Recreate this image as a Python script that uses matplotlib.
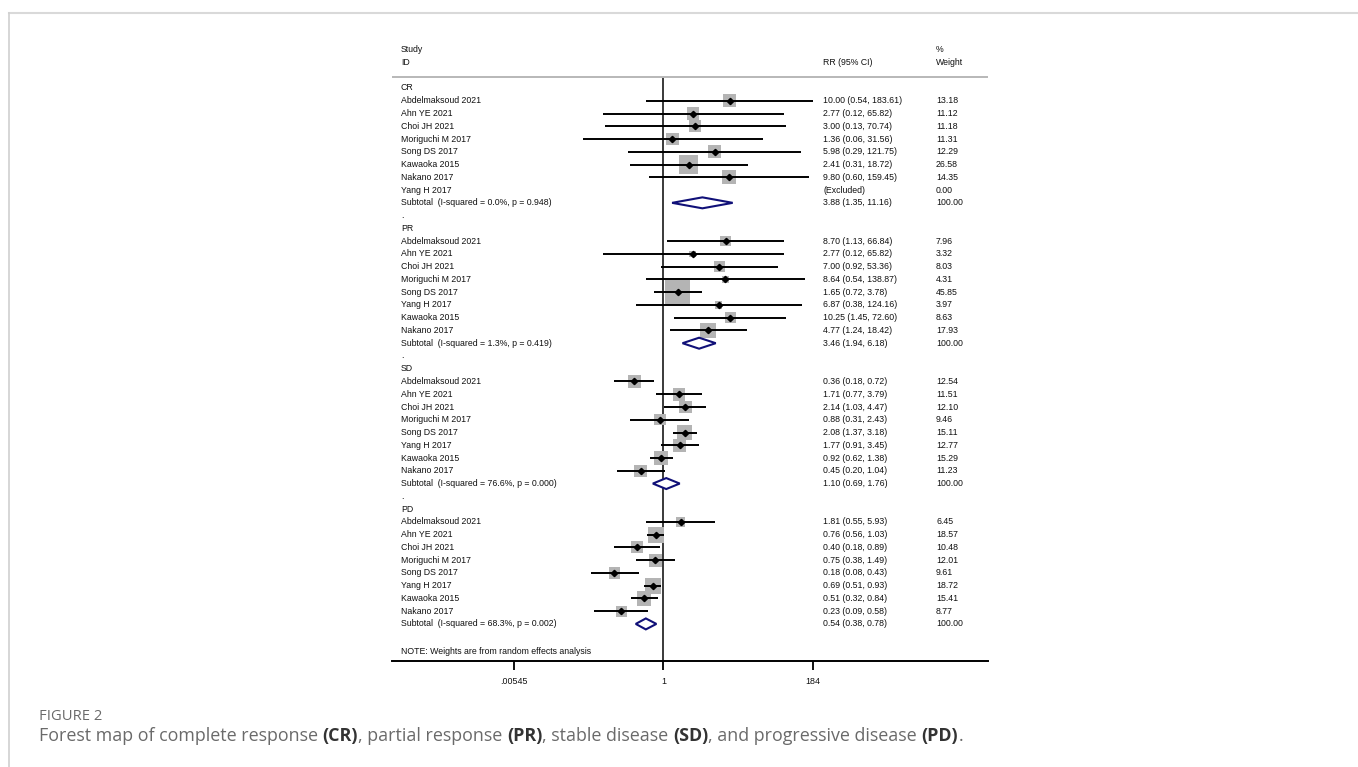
import numpy as np
import matplotlib
matplotlib.use("Agg")
import matplotlib.pyplot as plt
from matplotlib.transforms import blended_transform_factory
from matplotlib.patches import Polygon
from matplotlib.lines import Line2D
from matplotlib.text import Annotation
from matplotlib.ticker import NullLocator

# ---------------- data ----------------
groups = ["CR", "PR", "SD", "PD"]

studies_cr = ["Abdelmaksoud 2021", "Ahn YE 2021", "Choi JH 2021", "Moriguchi M 2017",
              "Song DS 2017", "Kawaoka 2015", "Nakano 2017", "Yang H 2017"]
rr_cr = [10.00, 2.77, 3.00, 1.36, 5.98, 2.41, 9.80, np.nan]
lo_cr = [0.54, 0.12, 0.13, 0.06, 0.29, 0.31, 0.60, np.nan]
hi_cr = [183.61, 65.82, 70.74, 31.56, 121.75, 18.72, 159.45, np.nan]
wt_cr = [13.18, 11.12, 11.18, 11.31, 12.29, 26.58, 14.35, 0.00]

studies_pr = ["Abdelmaksoud 2021", "Ahn YE 2021", "Choi JH 2021", "Moriguchi M 2017",
              "Song DS 2017", "Yang H 2017", "Kawaoka 2015", "Nakano 2017"]
rr_pr = [8.70, 2.77, 7.00, 8.64, 1.65, 6.87, 10.25, 4.77]
lo_pr = [1.13, 0.12, 0.92, 0.54, 0.72, 0.38, 1.45, 1.24]
hi_pr = [66.84, 65.82, 53.36, 138.87, 3.78, 124.16, 72.60, 18.42]
wt_pr = [7.96, 3.32, 8.03, 4.31, 45.85, 3.97, 8.63, 17.93]

studies_sd = ["Abdelmaksoud 2021", "Ahn YE 2021", "Choi JH 2021", "Moriguchi M 2017",
              "Song DS 2017", "Yang H 2017", "Kawaoka 2015", "Nakano 2017"]
rr_sd = [0.36, 1.71, 2.14, 0.88, 2.08, 1.77, 0.92, 0.45]
lo_sd = [0.18, 0.77, 1.03, 0.31, 1.37, 0.91, 0.62, 0.20]
hi_sd = [0.72, 3.79, 4.47, 2.43, 3.18, 3.45, 1.38, 1.04]
wt_sd = [12.54, 11.51, 12.10, 9.46, 15.11, 12.77, 15.29, 11.23]

studies_pd = ["Abdelmaksoud 2021", "Ahn YE 2021", "Choi JH 2021", "Moriguchi M 2017",
              "Song DS 2017", "Yang H 2017", "Kawaoka 2015", "Nakano 2017"]
rr_pd = [1.81, 0.76, 0.40, 0.75, 0.18, 0.69, 0.51, 0.23]
lo_pd = [0.55, 0.56, 0.18, 0.38, 0.08, 0.51, 0.32, 0.09]
hi_pd = [5.93, 1.03, 0.89, 1.49, 0.43, 0.93, 0.84, 0.58]
wt_pd = [6.45, 18.57, 10.48, 12.01, 9.61, 18.72, 15.41, 8.77]

sub_labels = ["Subtotal  (I-squared = 0.0%, p = 0.948)",
              "Subtotal  (I-squared = 1.3%, p = 0.419)",
              "Subtotal  (I-squared = 76.6%, p = 0.000)",
              "Subtotal  (I-squared = 68.3%, p = 0.002)"]
sub_rr = [3.88, 3.46, 1.10, 0.54]
sub_lo = [1.35, 1.94, 0.69, 0.38]
sub_hi = [11.16, 6.18, 1.76, 0.78]

tick_vals = [0.00545, 1, 184]
tick_labels = [".00545", "1", "184"]

note_text = "NOTE: Weights are from random effects analysis"

group_data = [
    (studies_cr, rr_cr, lo_cr, hi_cr, wt_cr),
    (studies_pr, rr_pr, lo_pr, hi_pr, wt_pr),
    (studies_sd, rr_sd, lo_sd, hi_sd, wt_sd),
    (studies_pd, rr_pd, lo_pd, hi_pd, wt_pd),
]

# ---------------- figure ----------------
W, H = 1358, 767
fig = plt.figure(figsize=(W / 100, H / 100), dpi=100)
fig.patch.set_facecolor("white")


def fx(px):
    return px / W


def fy(py):
    return 1 - py / H


# page frame
fig.add_artist(Line2D([fx(9), 1.0], [fy(13), fy(13)], transform=fig.transFigure,
                      color="#d9d9d9", lw=1.5))
fig.add_artist(Line2D([fx(9), fx(9)], [fy(13), 0.0], transform=fig.transFigure,
                      color="#d0d0d0", lw=1.2))

ax_left, ax_right, ax_top, ax_bottom = 392, 988, 40, 661
ax = fig.add_axes([fx(ax_left), fy(ax_bottom), (ax_right - ax_left) / W,
                   (ax_bottom - ax_top) / H])
ax.set_xscale("log")
px_per_ln = 28.68
x_null = 663.5
ax.set_xlim(np.exp((ax_left - x_null) / px_per_ln), np.exp((ax_right - x_null) / px_per_ln))
row0, row_h = 88.0, 12.76
ax.set_ylim((ax_bottom - row0) / row_h, (ax_top - row0) / row_h)

for s in ["top", "left", "right"]:
    ax.spines[s].set_visible(False)
ax.spines["bottom"].set_linewidth(1.4)
ax.set_yticks([])
ax.xaxis.set_minor_locator(NullLocator())
ax.set_xticks(tick_vals)
ax.set_xticklabels(tick_labels)
ax.tick_params(axis="x", length=6.5, width=1.4, pad=5, labelsize=6.4, colors="#111111")
for lab in ax.get_xticklabels():
    lab.set_fontfamily("Liberation Sans")

tr = blended_transform_factory(ax.transAxes, ax.transData)
fs = 6.35
font = dict(fontfamily="Liberation Sans", fontsize=fs, color="#111111", va="center",
            transform=tr)
x_lab, x_rr, x_wt = 0.0151, 0.7232, 0.9128

# header
ax.text(x_lab, -3.0, "Study", **font)
ax.text(x_lab, -1.96, "ID", **font)
ax.text(x_rr, -1.96, "RR (95% CI)", **font)
ax.text(x_wt, -3.0, "%", **font)
ax.text(x_wt, -1.96, "Weight", **font)
header_row = -0.86
ax.axhline(header_row, color="#b8b8b8", lw=1.4)
ax.vlines(1, header_row, ax.get_ylim()[0], color="#3a3a3a", lw=1.4, zorder=1)

row = 0
for gi, (names, rr, lo, hi, wt) in enumerate(group_data):
    ax.text(x_lab, row, groups[gi], **font)
    rows = np.arange(row + 1, row + 1 + len(names))
    rr_a, lo_a, hi_a, wt_a = map(np.asarray, (rr, lo, hi, wt))
    ok = ~np.isnan(rr_a)
    ax.scatter(rr_a[ok], rows[ok], s=7.06 * wt_a[ok], marker="s", color="#b4b4b4",
               linewidths=0, zorder=2)
    ax.hlines(rows[ok], lo_a[ok], hi_a[ok], color="black", lw=1.4, zorder=3)
    ax.plot(rr_a[ok], rows[ok], "D", ms=3.2, color="black", zorder=4)
    for r, n, v, l, h, w in zip(rows, names, rr_a, lo_a, hi_a, wt_a):
        ax.text(x_lab, r, n, **font)
        txt = "(Excluded)" if np.isnan(v) else f"{v:.2f} ({l:.2f}, {h:.2f})"
        ax.text(x_rr, r, txt, **font)
        ax.text(x_wt, r, f"{w:.2f}", **font)
    srow = row + 1 + len(names)
    ax.text(x_lab, srow, sub_labels[gi], **font)
    dh = 0.43
    ax.add_patch(Polygon([(sub_lo[gi], srow), (sub_rr[gi], srow - dh),
                          (sub_hi[gi], srow), (sub_rr[gi], srow + dh)],
                         closed=True, facecolor="white", edgecolor="#101078",
                         lw=1.5, zorder=3))
    ax.text(x_rr, srow, f"{sub_rr[gi]:.2f} ({sub_lo[gi]:.2f}, {sub_hi[gi]:.2f})", **font)
    ax.text(x_wt, srow, "100.00", **font)
    if gi < len(group_data) - 1:
        ax.text(x_lab, srow + 1, ".", **font)
    row = srow + 2

ax.text(x_lab, row + 0.2, note_text, **font)

# ---------------- caption ----------------
fig.text(fx(39), fy(716), "FIGURE 2", fontfamily="Open Sans", fontsize=10.6,
         color="#6a6a6a", va="center", ha="left")

cap_parts = [("Forest map of complete response ", False), ("(CR)", True),
             (", partial response ", False), ("(PR)", True),
             (", stable disease ", False), ("(SD)", True),
             (", and progressive disease ", False), ("(PD)", True), (".", False)]
cap_fs = 12.9
prev = None
for txt, bold in cap_parts:
    style = dict(fontfamily="Open Sans", fontsize=cap_fs,
                 color="#333333" if bold else "#6a6a6a",
                 fontweight="bold" if bold else "normal", va="center", ha="left")
    if prev is None:
        prev = fig.text(fx(39), fy(736), txt, **style)
    else:
        prev = fig.add_artist(Annotation(txt, xy=(1, 0.5), xycoords=prev,
                                         annotation_clip=False, **style))

fig.savefig("out.png", dpi=100, facecolor="white")
